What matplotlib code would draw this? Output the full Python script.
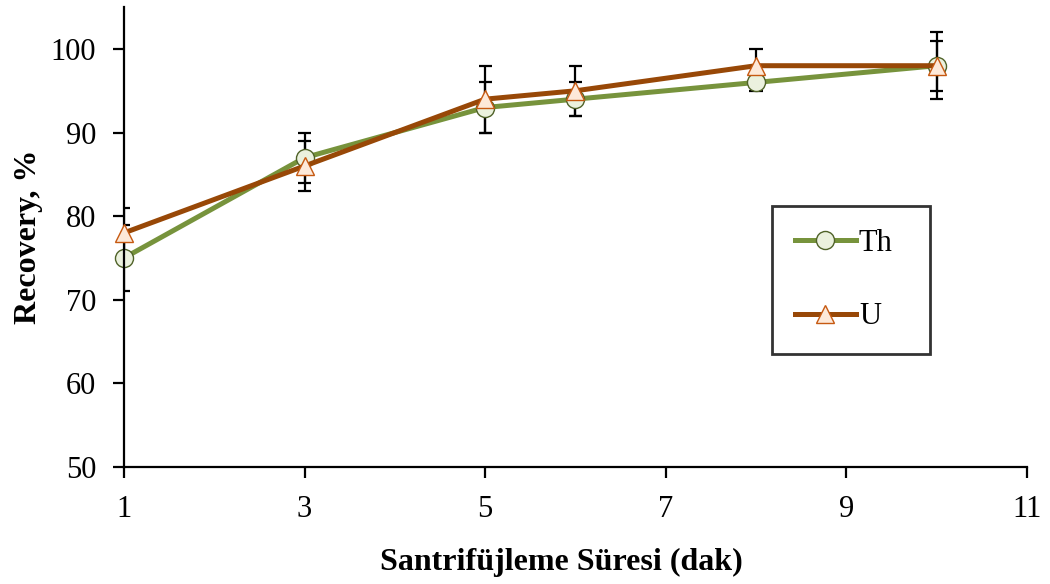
import matplotlib
matplotlib.use("Agg")
import matplotlib.pyplot as plt

# santrifujleme suresi (dak)
sure = [1, 3, 5, 6, 8, 10]
th = [75, 87, 93, 94, 96, 98]
th_err = [4, 3, 3, 2, 1, 3]
u = [78, 86, 94, 95, 98, 98]
u_err = [3, 3, 4, 3, 2, 4]

plt.rcParams['font.family'] = ['Liberation Serif', 'DejaVu Serif']

fig = plt.figure(figsize=(10.5, 5.84), dpi=100)
ax = fig.add_axes([0.118, 0.2003, 0.86, 0.7874])

cap = 0.072  # half cap width in x units
for y, e in [(th, th_err), (u, u_err)]:
    ax.errorbar(sure, y, yerr=e, fmt='none', ecolor='black',
                elinewidth=1.6, capsize=0, zorder=1)
    lo = [v - d for v, d in zip(y, e)]
    hi = [v + d for v, d in zip(y, e)]
    xs = [s - cap for s in sure]
    xe = [s + cap for s in sure]
    ax.hlines(lo, xs, xe, colors='black', lw=1.6, zorder=1)
    ax.hlines(hi, xs, xe, colors='black', lw=1.6, zorder=1)

ax.plot(sure, th, color='#77933C', lw=3.6, marker='o', ms=13,
        mfc='#EBF1DE', mec='#4F6228', mew=1, label='Th', zorder=2,
        clip_on=False)
ax.plot(sure, u, color='#984807', lw=3.6, marker='^', ms=13.5,
        mfc='#FDE9D9', mec='#C65911', mew=1, label='U', zorder=3,
        clip_on=False)

ax.set_xlim(1, 11)
ax.set_ylim(50, 105)
ax.set_xticks([1, 3, 5, 7, 9, 11])
ax.set_yticks([50, 60, 70, 80, 90, 100])
ax.tick_params(labelsize=22, direction='out', length=8, width=1.6)
ax.tick_params(axis='y', pad=12)
ax.tick_params(axis='x', pad=12)
for s in ['top', 'right']:
    ax.spines[s].set_visible(False)
for s in ['left', 'bottom']:
    ax.spines[s].set_linewidth(1.6)

ax.set_xlabel('Santrifüjleme Süresi (dak)', fontsize=23, fontweight='bold')
ax.set_ylabel('Recovery, %', fontsize=23, fontweight='bold')
ax.xaxis.set_label_coords(0.484, -0.175)
ax.yaxis.set_label_coords(-0.09, 0.5)

leg = ax.legend(loc='center', bbox_to_anchor=(0.7176, 0.2435, 0.175, 0.326),
                mode='expand',
                fontsize=22, frameon=True, fancybox=False, edgecolor='black',
                handlelength=2.0, handletextpad=0.1, labelspacing=1.45,
                borderpad=0.75, borderaxespad=0)
leg.get_frame().set_linewidth(2)

fig.savefig('out.png', dpi=100)
